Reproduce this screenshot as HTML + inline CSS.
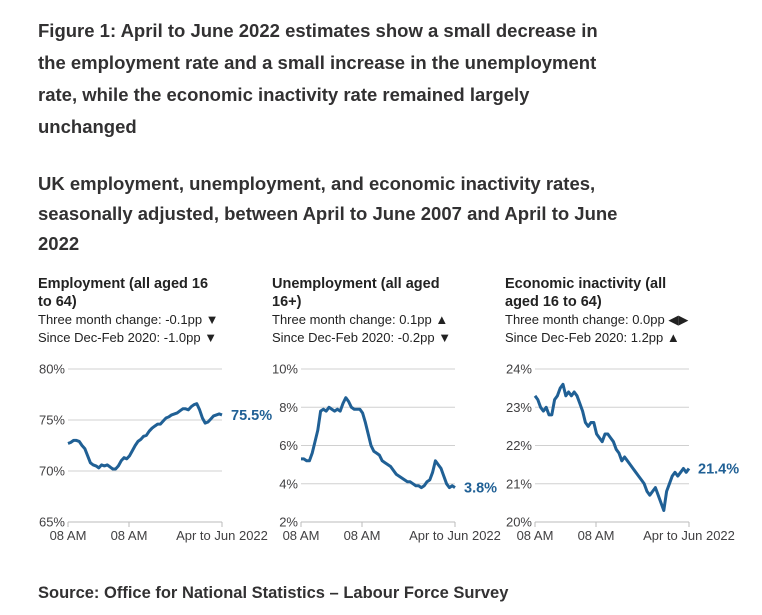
<!DOCTYPE html>
<html><head><meta charset="utf-8"><style>
body{margin:0;width:762px;height:615px;background:#fff;font-family:"Liberation Sans",sans-serif;color:#323132;position:relative;overflow:hidden}
.t{position:absolute;left:38px;font-weight:bold;white-space:nowrap}
.h1{top:15px;font-size:18.5px;line-height:32px}
.h2{top:169px;font-size:18.5px;line-height:30px}
.ct{position:absolute;top:275px;font-size:14.5px;font-weight:bold;line-height:18px;white-space:nowrap;color:#222}
.cs{font-weight:normal;font-size:13px;line-height:18px}
.src{position:absolute;left:38px;top:584px;font-size:16.5px;font-weight:bold}
svg{position:absolute;left:0;top:0}
</style></head><body>
<div class="t h1">Figure 1: April to June 2022 estimates show a small decrease in<br>the employment rate and a small increase in the unemployment<br>rate, while the economic inactivity rate remained largely<br>unchanged</div>
<div class="t h2">UK employment, unemployment, and economic inactivity rates,<br>seasonally adjusted, between April to June 2007 and April to June<br>2022</div>
<div class="ct" style="left:38px">Employment (all aged 16<br>to 64)<div class="cs">Three month change: -0.1pp ▼<br>Since Dec-Feb 2020: -1.0pp ▼</div></div>
<div class="ct" style="left:272px">Unemployment (all aged<br>16+)<div class="cs">Three month change: 0.1pp ▲<br>Since Dec-Feb 2020: -0.2pp ▼</div></div>
<div class="ct" style="left:505px">Economic inactivity (all<br>aged 16 to 64)<div class="cs">Three month change: 0.0pp ◀▶<br>Since Dec-Feb 2020: 1.2pp ▲</div></div>
<div class="src">Source: Office for National Statistics – Labour Force Survey</div>
<svg id="s" width="762" height="615"></svg>
<script>
const xLabels=["08 AM","08 AM","Apr to Jun 2022"];
const empTicks=[65,70,75,80];
const empValues=[72.7,72.8,73.0,73.0,72.9,72.5,72.2,71.5,70.8,70.6,70.5,70.3,70.6,70.5,70.6,70.4,70.2,70.2,70.5,71.0,71.3,71.2,71.5,72.0,72.5,72.9,73.1,73.4,73.5,73.9,74.2,74.4,74.6,74.6,74.9,75.2,75.3,75.5,75.6,75.7,75.9,76.1,76.1,76.0,76.3,76.5,76.6,76.0,75.2,74.7,74.8,75.1,75.4,75.5,75.6,75.5];
const unempTicks=[2,4,6,8,10];
const unempValues=[5.3,5.3,5.2,5.2,5.6,6.2,6.8,7.8,7.9,7.8,8.0,7.9,7.8,7.9,7.8,8.2,8.5,8.3,8.0,7.9,7.9,7.9,7.7,7.2,6.6,6.0,5.7,5.6,5.5,5.2,5.1,5.0,4.9,4.7,4.5,4.4,4.3,4.2,4.1,4.1,4.0,3.9,3.9,3.8,3.9,4.1,4.2,4.6,5.2,5.0,4.8,4.4,4.0,3.8,3.9,3.8];
const inactTicks=[20,21,22,23,24];
const inactValues=[23.3,23.2,23.0,22.9,23.0,22.8,22.8,23.2,23.3,23.5,23.6,23.3,23.4,23.3,23.4,23.3,23.1,22.9,22.6,22.5,22.6,22.6,22.3,22.2,22.1,22.3,22.3,22.2,22.1,21.9,21.8,21.6,21.7,21.6,21.5,21.4,21.3,21.2,21.1,21.0,20.8,20.7,20.8,20.9,20.7,20.5,20.3,20.8,21.0,21.2,21.3,21.2,21.3,21.4,21.3,21.4];
const endLabels=["75.5%","3.8%","21.4%"];
const svg=document.getElementById('s');const NS='http://www.w3.org/2000/svg';
function mk(t,a,p){const e=document.createElementNS(NS,t);for(const k in a)e.setAttribute(k,a[k]);(p||svg).appendChild(e);return e;}
function chart(x0,ticks,vals,label,name){
 const x1=x0+154,yT=369,yB=522,lo=ticks[0],hi=ticks[ticks.length-1];
 const ys=v=>yB-(v-lo)/(hi-lo)*(yB-yT);
 const xs=i=>x0+i/(vals.length-1)*(x1-x0);
 const g=mk('g',{});
 
 
 ticks.forEach(t=>{
  const l=mk('line',{x1:x0,x2:x1,y1:ys(t),y2:ys(t),stroke:t===lo?'#bbb':'#d0d0d0','stroke-width':1},g);
  
  
  const tx=mk('text',{x:x0-3,y:ys(t)+4.5,'text-anchor':'end','font-size':13,fill:'#414042','font-family':'Liberation Sans'},g);
  tx.textContent=t+'%';
  
  
 });
 [x0,x0+61,x1].forEach((tx,i)=>{
  const l=mk('line',{x1:tx,x2:tx,y1:yB,y2:yB+5,stroke:'#bbb'},g);
  
  
  const t=mk('text',{x:tx,y:yB+18,'text-anchor':'middle','font-size':13,fill:'#414042','font-family':'Liberation Sans'},g);
  t.textContent=xLabels[i];
  
  
 });
 const p=mk('path',{d:vals.map((v,i)=>(i?'L':'M')+xs(i).toFixed(1)+','+ys(v).toFixed(1)).join(''),fill:'none',stroke:'#206095','stroke-width':3,'stroke-linejoin':'round'},g);
 
 
 const e=mk('text',{x:x1+9,y:ys(vals[vals.length-1])+5,'font-size':14.5,'font-weight':'bold',fill:'#206095','font-family':'Liberation Sans'},g);
 e.textContent=label;
 
 
}
chart(68,empTicks,empValues,endLabels[0],'employment');
chart(301,unempTicks,unempValues,endLabels[1],'unemployment');
chart(535,inactTicks,inactValues,endLabels[2],'inactivity');
</script>
</body></html>
